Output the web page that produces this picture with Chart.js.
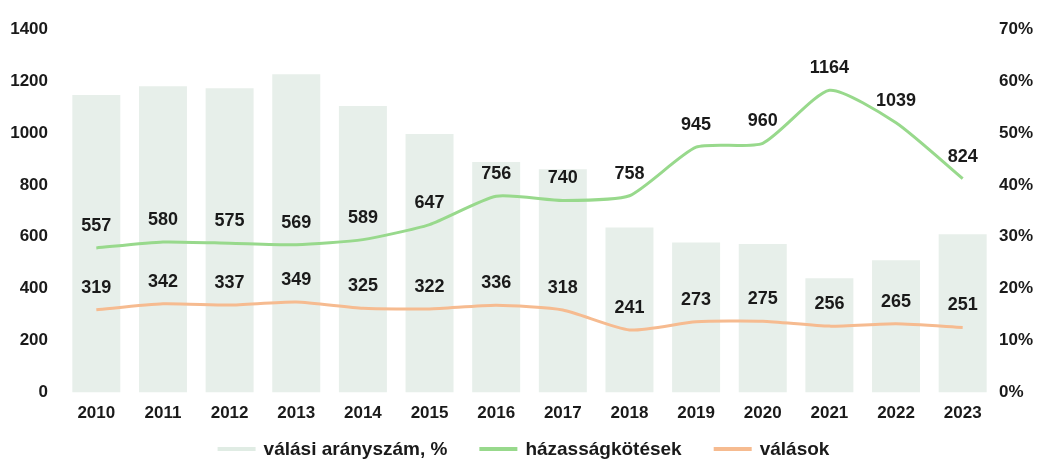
<!DOCTYPE html>
<html>
<head>
<meta charset="utf-8">
<script src="https://cdn.jsdelivr.net/npm/chart.js@4/dist/chart.umd.min.js"></script>
<style>
  html, body { margin: 0; padding: 0; background: #fff; }
  #wrap { width: 1037px; height: 461px; }
</style>
</head>
<body>
<div id="wrap"><canvas id="chart" width="1037" height="461"></canvas></div>
<script>
// Chart data
const years = ['2010', '2011', '2012', '2013', '2014', '2015', '2016', '2017', '2018', '2019', '2020', '2021', '2022', '2023'];
const marriages = [557, 580, 575, 569, 589, 647, 756, 740, 758, 945, 960, 1164, 1039, 824];
const divorces = [319, 342, 337, 349, 325, 322, 336, 318, 241, 273, 275, 256, 265, 251];
const divorceRate = [57.3, 59.0, 58.6, 61.3, 55.2, 49.8, 44.4, 43.0, 31.8, 28.9, 28.6, 22.0, 25.5, 30.5];
const leftTicks = [0, 200, 400, 600, 800, 1000, 1200, 1400];
const rightTicks = [0, 10, 20, 30, 40, 50, 60, 70];

const fontFamily = '"Liberation Sans", Arial, sans-serif';
const textColor = '#1a1a1a';

// Draws the number above each point of the line series
const pointLabels = {
    id: 'pointLabels',
    afterDatasetsDraw(chart) {
        const ctx = chart.ctx;
        ctx.save();
        ctx.font = 'bold 18px ' + fontFamily;
        ctx.fillStyle = textColor;
        ctx.textAlign = 'center';
        ctx.textBaseline = 'middle';
        chart.data.datasets.forEach((ds, i) => {
            if (ds.type !== 'line') return;
            const meta = chart.getDatasetMeta(i);
            meta.data.forEach((pt, j) => {
                ctx.fillText(String(ds.data[j]), pt.x, pt.y - 22);
            });
        });
        ctx.restore();
    }
};

// Legend drawn by hand so the spacing can follow the original
const bottomLegend = {
    id: 'bottomLegend',
    afterDraw(chart) {
        const ctx = chart.ctx;
        const boxW = 38, boxH = 4, gapText = 8, gapItem = 32;
        const y = chart.height - 12;
        ctx.save();
        ctx.font = 'bold 19px ' + fontFamily;
        ctx.textBaseline = 'middle';
        const items = chart.data.datasets.map(ds => ({
            text: ds.label,
            color: ds.legendColor || ds.borderColor,
            w: ctx.measureText(ds.label).width
        }));
        let total = 0;
        items.forEach((it, i) => {
            total += boxW + gapText + it.w + (i < items.length - 1 ? gapItem : 0);
        });
        let x = (chart.chartArea.left + chart.chartArea.right) / 2 - total / 2 - 6;
        items.forEach(it => {
            ctx.fillStyle = it.color;
            ctx.fillRect(x, y - boxH / 2, boxW, boxH);
            x += boxW + gapText;
            ctx.fillStyle = textColor;
            ctx.fillText(it.text, x, y + 1);
            x += it.w + gapItem;
        });
        ctx.restore();
    }
};

const ctx = document.getElementById('chart').getContext('2d');
new Chart(ctx, {
    data: {
        labels: years,
        datasets: [
            {
                type: 'bar',
                label: 'válási arányszám, %',
                data: divorceRate,
                yAxisID: 'yRight',
                backgroundColor: '#e7efea',
                legendColor: '#e0ece4',
                borderWidth: 0,
                categoryPercentage: 0.72,
                barPercentage: 1,
                order: 3
            },
            {
                type: 'line',
                label: 'házasságkötések',
                data: marriages,
                yAxisID: 'yLeft',
                borderColor: '#98d98c',
                backgroundColor: '#98d98c',
                borderWidth: 3,
                pointRadius: 0,
                tension: 0.2,
                order: 1
            },
            {
                type: 'line',
                label: 'válások',
                data: divorces,
                yAxisID: 'yLeft',
                borderColor: '#f6bb90',
                backgroundColor: '#f6bb90',
                borderWidth: 3,
                pointRadius: 0,
                tension: 0.2,
                order: 2
            }
        ]
    },
    options: {
        responsive: false,
        animation: false,
        layout: { padding: { left: 4, right: 0, top: 29, bottom: 26 } },
        plugins: {
            tooltip: { enabled: false },
            legend: { display: false }
        },
        scales: {
            x: {
                grid: { display: false, drawTicks: false },
                border: { display: false },
                ticks: {
                    padding: 11,
                    color: textColor,
                    font: { family: fontFamily, size: 17, weight: 'bold' }
                }
            },
            yLeft: {
                position: 'left',
                min: 0,
                max: 1400,
                afterBuildTicks: axis => { axis.ticks = leftTicks.map(v => ({ value: v })); },
                afterFit: axis => { axis.width = 59; },
                grid: { display: false, drawTicks: false },
                border: { display: false },
                ticks: {
                    padding: 15,
                    color: textColor,
                    callback: v => String(v),
                    font: { family: fontFamily, size: 17, weight: 'bold' }
                }
            },
            yRight: {
                position: 'right',
                min: 0,
                max: 70,
                afterBuildTicks: axis => { axis.ticks = rightTicks.map(v => ({ value: v })); },
                afterFit: axis => { axis.width = 41; },
                grid: { display: false, drawTicks: false },
                border: { display: false },
                ticks: {
                    padding: 3,
                    color: textColor,
                    callback: v => v + '%',
                    font: { family: fontFamily, size: 17, weight: 'bold' }
                }
            }
        }
    },
    plugins: [pointLabels, bottomLegend]
});
</script>
</body>
</html>
